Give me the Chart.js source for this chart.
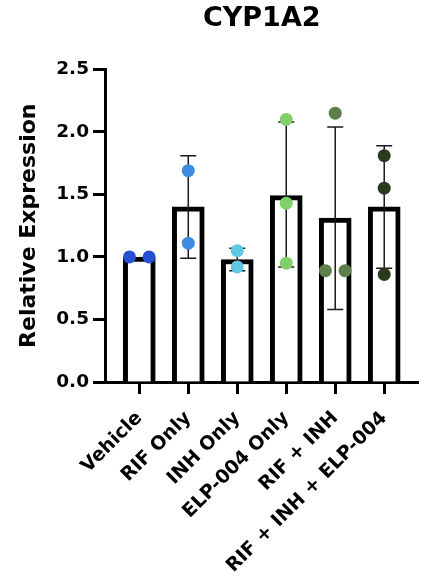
<!DOCTYPE html>
<html>
<head>
<meta charset="utf-8">
<script src="https://cdn.jsdelivr.net/npm/chart.js@4"></script>
<style>
  body { margin: 0; background: #fff; }
  #wrap { width: 425px; height: 582px; position: relative; }
</style>
</head>
<body>
<div id="wrap"><canvas id="myChart"></canvas></div>
<script>
// groups and replicate values
const groups = ['Vehicle', 'RIF Only', 'INH Only', 'ELP-004 Only', 'RIF + INH', 'RIF + INH + ELP-004'];
const means = [1.00, 1.40, 0.98, 1.49, 1.31, 1.40];
const errHigh = [null, 1.81, 1.07, 2.08, 2.04, 1.89];
const errLow = [null, 0.99, 0.89, 0.92, 0.58, 0.91];
const vehicle = [1.00, 1.00];
const rifOnly = [1.69, 1.11];
const inhOnly = [1.05, 0.92];
const elpOnly = [2.10, 1.43, 0.95];
const rifInh = [2.15, 0.89, 0.89];
const rifInhElp = [1.81, 1.55, 0.86];
const yTicks = [0, 0.5, 1.0, 1.5, 2.0, 2.5];

const replicates = [vehicle, rifOnly, inhOnly, elpOnly, rifInh, rifInhElp];
const dotColors = ['#2650d4', '#3d8ce0', '#5fc8e4', '#80cf6b', '#5e7f4b', '#2b3a1f'];

// points that sit on the same value get pushed apart sideways
function dodge(vals, i) {
    return vals.map((v, k) => {
        const twins = vals.filter(w => Math.abs(w - v) < 0.05);
        if (twins.length < 2) return { x: i, y: v };
        const rank = vals.slice(0, k).filter(w => Math.abs(w - v) < 0.05).length;
        return { x: i + (rank === 0 ? -0.2 : 0.2), y: v };
    });
}

Chart.defaults.font.family = "'DejaVu Sans', sans-serif";
Chart.defaults.font.weight = 'bold';
Chart.defaults.color = '#000';

const errorBars = {
    id: 'errorBars',
    afterDatasetDraw(chart, args) {
        if (args.index !== 0) return;
        const { ctx, scales: { x, y } } = chart;
        ctx.save();
        ctx.strokeStyle = '#1a1a1a';
        ctx.lineWidth = 1.5;
        groups.forEach((g, i) => {
            if (errHigh[i] == null) return;
            const px = x.getPixelForValue(i);
            const top = y.getPixelForValue(errHigh[i]);
            const bot = y.getPixelForValue(errLow[i]);
            ctx.beginPath();
            ctx.moveTo(px, top); ctx.lineTo(px, bot);
            ctx.moveTo(px - 8, top); ctx.lineTo(px + 8, top);
            ctx.moveTo(px - 8, bot); ctx.lineTo(px + 8, bot);
            ctx.stroke();
        });
        ctx.restore();
    }
};

const datasets = [{
    type: 'bar',
    data: means.map((m, i) => ({ x: i, y: m })),
    backgroundColor: '#fff',
    borderColor: '#000',
    borderWidth: 5,
    barThickness: 32,
    order: 2
}];
replicates.forEach((vals, i) => {
    datasets.push({
        type: 'scatter',
        data: dodge(vals, i),
        backgroundColor: dotColors[i],
        borderWidth: 0,
        pointRadius: 6.5,
        order: 1
    });
});

const myChart = new Chart(document.getElementById('myChart').getContext('2d'), {
    data: { datasets: datasets },
    plugins: [errorBars],
    options: {
        responsive: true,
        maintainAspectRatio: false,
        animation: false,
        layout: { padding: { left: 0, right: 4, top: 0, bottom: 0 } },
        plugins: {
            legend: { display: false },
            tooltip: { enabled: false },
            title: {
                display: true,
                text: 'CYP1A2',
                fullSize: false,
                font: { size: 27, weight: 'bold' },
                color: '#000',
                padding: { top: 3, bottom: 34 }
            }
        },
        scales: {
            x: {
                type: 'linear',
                min: -0.7,
                max: 5.7,
                offset: false,
                afterBuildTicks: s => { s.ticks = groups.map((g, i) => ({ value: i })); },
                afterFit: s => { s.height = 200; s.paddingLeft = 0; s.paddingRight = 0; },
                ticks: {
                    autoSkip: false,
                    minRotation: 45,
                    maxRotation: 45,
                    padding: 13,
                    font: { size: 19, weight: 'bold' },
                    callback: v => groups[v]
                },
                grid: { offset: false, drawOnChartArea: false, drawTicks: true, tickLength: 12, tickWidth: 3, tickColor: '#000' },
                border: { display: true, width: 3, color: '#000' }
            },
            y: {
                min: 0,
                max: 2.5,
                afterBuildTicks: s => { s.ticks = yTicks.map(v => ({ value: v })); },
                afterFit: s => { s.width = 105; },
                ticks: {
                    padding: 4,
                    font: { size: 18.5, weight: 'bold' },
                    callback: v => v.toFixed(1)
                },
                grid: { drawOnChartArea: false, drawTicks: true, tickLength: 12, tickWidth: 3, tickColor: '#000' },
                border: { display: true, width: 3, color: '#000' },
                title: {
                    display: true,
                    text: 'Relative Expression',
                    font: { size: 22, weight: 'bold' },
                    padding: { top: 16, bottom: 0 }
                }
            }
        }
    }
});
</script>
</body>
</html>
